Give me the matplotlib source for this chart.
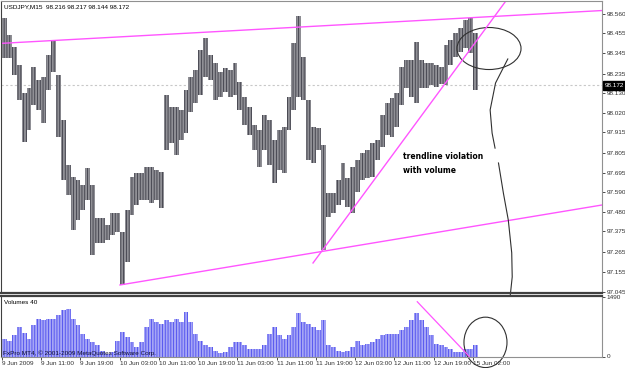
import numpy as np
import matplotlib
matplotlib.use("Agg")
import matplotlib.pyplot as plt
from matplotlib.patches import Ellipse
from matplotlib.transforms import blended_transform_factory

# ====== DATA (USDJPY M15, gom theo giờ) ======
# giờ 0 = 9 Jun 03:00
highs = [98.538, 98.446, 98.380, 98.282, 98.129, 98.157, 98.271, 98.200, 98.217, 98.337,
         98.418, 98.228, 97.982, 97.737, 97.672, 97.655, 97.628, 97.721, 97.628, 97.448,
         97.448, 97.410, 97.476, 97.476, 97.372, 97.492, 97.672, 97.693, 97.693, 97.726,
         97.726, 97.710, 97.699, 98.119, 98.053, 98.053, 98.037, 98.146, 98.217, 98.255,
         98.364, 98.429, 98.337, 98.293, 98.244, 98.266, 98.255, 98.293, 98.189, 98.108,
         98.053, 97.955, 97.928, 98.010, 97.982, 97.873, 97.928, 97.944, 98.108, 98.402,
         98.549, 98.326, 98.091, 97.944, 97.939, 97.846, 97.585, 97.585, 97.655, 97.748,
         97.666, 97.726, 97.764, 97.803, 97.819, 97.857, 97.873, 98.010, 98.075, 98.102,
         98.129, 98.271, 98.309, 98.309, 98.407, 98.309, 98.293, 98.293, 98.282, 98.271,
         98.391, 98.418, 98.456, 98.484, 98.527, 98.538, 98.456]
lows = [98.320, 98.320, 98.228, 98.091, 97.862, 97.928, 98.064, 98.037, 97.966, 98.146,
        98.244, 97.890, 97.655, 97.574, 97.383, 97.437, 97.492, 97.546, 97.247, 97.312,
        97.312, 97.328, 97.356, 97.372, 97.083, 97.209, 97.465, 97.519, 97.546, 97.546,
        97.530, 97.546, 97.503, 97.819, 97.857, 97.792, 97.873, 97.911, 98.026, 98.075,
        98.119, 98.217, 98.200, 98.091, 98.108, 98.135, 98.108, 98.119, 98.037, 97.955,
        97.901, 97.819, 97.726, 97.819, 97.737, 97.639, 97.710, 97.693, 97.928, 98.037,
        98.108, 98.091, 97.764, 97.748, 97.819, 97.274, 97.454, 97.476, 97.519, 97.546,
        97.508, 97.476, 97.590, 97.655, 97.666, 97.672, 97.764, 97.835, 97.901, 97.890,
        97.944, 98.064, 98.157, 98.108, 98.075, 98.157, 98.157, 98.173, 98.162, 98.179,
        98.173, 98.282, 98.326, 98.353, 98.375, 98.347, 98.146]
volumes = [450, 400, 530, 740, 580, 450, 780, 950, 910, 950,
           950, 1035, 1160, 1200, 950, 780, 570, 450, 360, 280,
           150, 70, 110, 400, 615, 490, 360, 235, 360, 740,
           950, 865, 825, 910, 865, 950, 865, 1120, 865, 570,
           400, 280, 235, 150, 90, 110, 235, 360, 360, 280,
           190, 190, 190, 280, 570, 740, 530, 450, 530, 740,
           1085, 865, 825, 740, 655, 910, 280, 235, 150, 110,
           150, 235, 400, 280, 320, 360, 450, 530, 570, 570,
           570, 655, 740, 910, 1080, 910, 740, 530, 320, 280,
           235, 190, 110, 110, 190, 190, 280]

x_tick_pos = [0, 8, 16, 24, 32, 40, 48, 56, 64, 72, 80, 88, 96]
x_tick_labels = ["9 Jun 2009", "9 Jun 11:00", "9 Jun 19:00", "10 Jun 03:00", "10 Jun 11:00",
                 "10 Jun 19:00", "11 Jun 03:00", "11 Jun 11:00", "11 Jun 19:00", "12 Jun 03:00",
                 "12 Jun 11:00", "12 Jun 19:00", "15 Jun 02:00"]
price_ticks = [98.560, 98.455, 98.345, 98.235, 98.130, 98.020, 97.915, 97.805, 97.695,
               97.590, 97.480, 97.375, 97.265, 97.155, 97.045]
last_price = 98.172
vol_max = 1490

# trendline (giờ, giá)
upper_line = ([-0.2, 122.3], [98.400, 98.579])
lower_line = ([24.05, 122.3], [97.083, 97.519])
rising_line = ([63.4, 102.7], [97.203, 98.631])
vol_line = ([84.65, 95.25], [1371, 0])

# ====== FIGURE ======
W, H = 625, 368
fig = plt.figure(figsize=(W / 100, H / 100), dpi=100)
plt.rcParams["font.family"] = ["Liberation Sans", "DejaVu Sans"]
plt.rcParams["hatch.linewidth"] = 0.6
FS = 4.6

def box(l, t, r, b):
    return [l / W, 1 - b / H, (r - l) / W, (b - t) / H]

ax = fig.add_axes(box(1, 1, 602, 292.5))
axv = fig.add_axes(box(1, 296, 602, 356.5))

n = len(highs)
t = np.arange(n) + 0.5
hi = np.array(highs)
lo = np.array(lows)
# hatch dọc để giống các nến M15 dày đặc
ax.bar(t, hi - lo, bottom=lo, width=1.0, color="#909096", edgecolor="#3e3e48",
       hatch="||||||", linewidth=0)

ax.axhline(last_price, color="#c8c8c8", lw=0.8, ls=(0, (2, 2)), zorder=0)
for xs, ys in (upper_line, lower_line, rising_line):
    ax.plot(xs, ys, color="#ff55ff", lw=1.0)

ax.set_xlim(-0.2, 122.3)
ax.set_ylim(97.042, 98.631)
ax.set_xticks([])
ax.yaxis.tick_right()
ax.set_yticks(price_ticks)
ax.set_yticklabels(["%.3f" % p for p in price_ticks])
ax.tick_params(axis="y", length=2.2, width=0.6, pad=1.2, labelsize=FS, colors="#303030")

# nhãn giá hiện tại
trans = blended_transform_factory(ax.transAxes, ax.transData)
ax.text(1.005, last_price, "%.3f" % last_price, transform=trans, fontsize=FS,
        color="white", va="center", ha="left",
        bbox=dict(boxstyle="square,pad=0.3", fc="black", ec="black"))

# ellipse + chữ chú thích
ax.add_patch(Ellipse((99.27, 98.372), 13.05, 0.229, fill=False, ec="#303030", lw=0.8))
ax.text(81.7, 97.745, "trendline violation\nwith volume", fontsize=5.5, fontweight="bold",
        family=["DejaVu Sans"], linespacing=1.6, va="center", ha="left", color="black")

curve1 = ([103.1, 100.6, 99.5, 99.9, 100.5], [98.315, 98.184, 98.037, 97.911, 97.829])
curve2 = ([101.2, 102.2, 103.2, 103.9, 104.0, 103.5, 102.2, 101.2],
          [97.748, 97.584, 97.437, 97.258, 97.127, 97.001, 96.909, 96.876])
for cx, cy in (curve1, curve2):
    ax.plot(cx, cy, color="#303030", lw=0.8, clip_on=False)

for s in ax.spines.values():
    s.set_color("#909090")
    s.set_linewidth(0.8)
ax.spines["left"].set_color("#404040")
ax.spines["bottom"].set_color("#404040")
ax.spines["bottom"].set_linewidth(1.6)

# ====== VOLUME ======
axv.bar(t, volumes, width=1.0, color="#a6a6f6", edgecolor="#4c4cee", hatch="||||||", linewidth=0)
axv.plot(vol_line[0], vol_line[1], color="#ff55ff", lw=0.9)
axv.add_patch(Ellipse((98.55, 354), 8.77, 1262, fill=False, ec="#303030", lw=0.8, clip_on=False))
axv.set_xlim(-0.2, 122.3)
axv.set_ylim(0, 1515)
axv.yaxis.tick_right()
axv.set_yticks([0, vol_max])
axv.set_yticklabels(["0", str(vol_max)])
axv.tick_params(axis="y", length=2.2, width=0.6, pad=1.2, labelsize=FS, colors="#303030")
axv.set_xticks(x_tick_pos)
axv.set_xticklabels(x_tick_labels)
axv.tick_params(axis="x", length=2.5, width=0.6, pad=1, labelsize=FS, colors="#303030")
for lab in axv.get_xticklabels():
    lab.set_ha("left")
for s in axv.spines.values():
    s.set_color("#909090")
    s.set_linewidth(0.8)
axv.spines["left"].set_color("#404040")
axv.spines["top"].set_color("#404040")
axv.spines["top"].set_linewidth(1.6)

axv.text(0.005, 0.9, "Volumes 40", transform=axv.transAxes, fontsize=FS, va="center", color="black")
axv.text(0.003, 0.06, "FxPro MT4, \u00a9 2001-2009 MetaQuotes Software Corp.", transform=axv.transAxes,
         fontsize=FS, va="center", color="#101030")

fig.text(4 / W, 1 - 7 / H, "USDJPY,M15  98.216 98.217 98.144 98.172", fontsize=FS, va="center",
         color="black")

fig.savefig("out.png", dpi=100, facecolor="white")
